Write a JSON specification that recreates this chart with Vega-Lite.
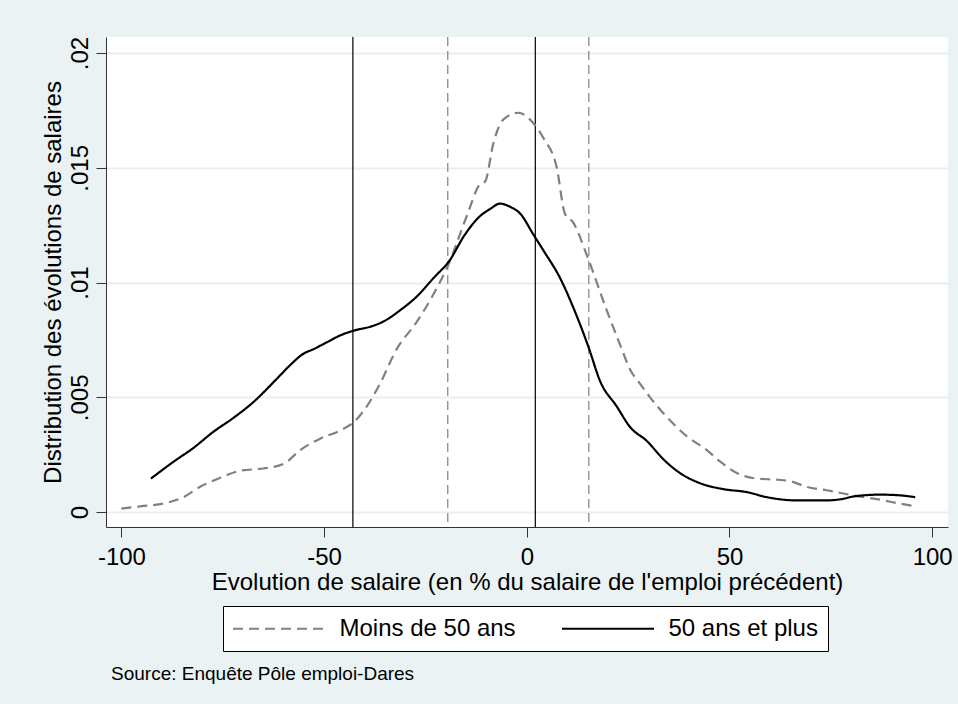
{
  "$schema": "https://vega.github.io/schema/vega-lite/v6.json",
  "width": 842,
  "height": 490,
  "autosize": {"type": "none"},
  "padding": {"left": 106, "top": 37, "right": 10, "bottom": 177},
  "background": "#eaf2f3",
  "config": {
    "view": {"stroke": null, "fill": "white"},
    "font": "Liberation Sans",
    "axis": {
      "domainColor": "#333333",
      "tickColor": "#333333",
      "tickSize": 10,
      "labelFontSize": 24,
      "labelColor": "black",
      "labelFont": "Liberation Sans",
      "titleFont": "Liberation Sans",
      "titleFontSize": 24,
      "titleFontWeight": "normal",
      "titleColor": "black"
    },
    "legend": {
      "title": null,
      "orient": "none",
      "legendX": 117,
      "legendY": 569,
      "direction": "horizontal",
      "strokeColor": "black",
      "fillColor": "white",
      "padding": 10,
      "labelFontSize": 24,
      "labelColor": "black",
      "labelFont": "Liberation Sans",
      "labelLimit": 400,
      "symbolType": "M-4,0H4",
      "symbolStrokeWidth": 2,
      "symbolSize": 529,
      "symbolOffset": 33.5,
      "labelOffset": 48,
      "columnPadding": 42
    }
  },
  "title": {
    "text": "Source: Enquête Pôle emploi-Dares",
    "orient": "bottom",
    "anchor": "start",
    "frame": "group",
    "fontSize": 19,
    "fontWeight": "normal",
    "color": "black",
    "font": "Liberation Sans",
    "dx": 5,
    "offset": 13
  },
  "datasets": {
    "curves": [
      {"x": -100, "y": 0.00015, "groupe": "Moins de 50 ans"},
      {"x": -95.3, "y": 0.00025, "groupe": "Moins de 50 ans"},
      {"x": -89.6, "y": 0.00037, "groupe": "Moins de 50 ans"},
      {"x": -84.7, "y": 0.00065, "groupe": "Moins de 50 ans"},
      {"x": -80.6, "y": 0.0011, "groupe": "Moins de 50 ans"},
      {"x": -75.6, "y": 0.0015, "groupe": "Moins de 50 ans"},
      {"x": -70.7, "y": 0.0018, "groupe": "Moins de 50 ans"},
      {"x": -65, "y": 0.0019, "groupe": "Moins de 50 ans"},
      {"x": -60, "y": 0.0021, "groupe": "Moins de 50 ans"},
      {"x": -55.9, "y": 0.0027, "groupe": "Moins de 50 ans"},
      {"x": -51, "y": 0.0032, "groupe": "Moins de 50 ans"},
      {"x": -46, "y": 0.00356, "groupe": "Moins de 50 ans"},
      {"x": -42.8, "y": 0.0039, "groupe": "Moins de 50 ans"},
      {"x": -39.5, "y": 0.0046, "groupe": "Moins de 50 ans"},
      {"x": -36.2, "y": 0.0056, "groupe": "Moins de 50 ans"},
      {"x": -32.1, "y": 0.0071, "groupe": "Moins de 50 ans"},
      {"x": -27.1, "y": 0.0083, "groupe": "Moins de 50 ans"},
      {"x": -23, "y": 0.0095, "groupe": "Moins de 50 ans"},
      {"x": -19.3, "y": 0.0108, "groupe": "Moins de 50 ans"},
      {"x": -14.8, "y": 0.0129, "groupe": "Moins de 50 ans"},
      {"x": -11.5, "y": 0.0143, "groupe": "Moins de 50 ans"},
      {"x": -10.3, "y": 0.0144, "groupe": "Moins de 50 ans"},
      {"x": -8.2, "y": 0.0161, "groupe": "Moins de 50 ans"},
      {"x": -5.8, "y": 0.0171, "groupe": "Moins de 50 ans"},
      {"x": -2.1, "y": 0.0174, "groupe": "Moins de 50 ans"},
      {"x": 0.8, "y": 0.0171, "groupe": "Moins de 50 ans"},
      {"x": 4.1, "y": 0.0163, "groupe": "Moins de 50 ans"},
      {"x": 7.4, "y": 0.015, "groupe": "Moins de 50 ans"},
      {"x": 9.4, "y": 0.013, "groupe": "Moins de 50 ans"},
      {"x": 11.5, "y": 0.0126, "groupe": "Moins de 50 ans"},
      {"x": 14.8, "y": 0.0112, "groupe": "Moins de 50 ans"},
      {"x": 19.7, "y": 0.0088, "groupe": "Moins de 50 ans"},
      {"x": 23, "y": 0.0073, "groupe": "Moins de 50 ans"},
      {"x": 25.5, "y": 0.0062, "groupe": "Moins de 50 ans"},
      {"x": 27.9, "y": 0.0056, "groupe": "Moins de 50 ans"},
      {"x": 30.4, "y": 0.005, "groupe": "Moins de 50 ans"},
      {"x": 35.3, "y": 0.004, "groupe": "Moins de 50 ans"},
      {"x": 39.5, "y": 0.0033, "groupe": "Moins de 50 ans"},
      {"x": 44.4, "y": 0.0027, "groupe": "Moins de 50 ans"},
      {"x": 47.7, "y": 0.0022, "groupe": "Moins de 50 ans"},
      {"x": 51.8, "y": 0.0017, "groupe": "Moins de 50 ans"},
      {"x": 56.7, "y": 0.00146, "groupe": "Moins de 50 ans"},
      {"x": 61.7, "y": 0.00141, "groupe": "Moins de 50 ans"},
      {"x": 64.9, "y": 0.00135, "groupe": "Moins de 50 ans"},
      {"x": 69, "y": 0.0011, "groupe": "Moins de 50 ans"},
      {"x": 74, "y": 0.00095, "groupe": "Moins de 50 ans"},
      {"x": 80.5, "y": 0.00073, "groupe": "Moins de 50 ans"},
      {"x": 87.1, "y": 0.00054, "groupe": "Moins de 50 ans"},
      {"x": 92, "y": 0.00037, "groupe": "Moins de 50 ans"},
      {"x": 95.8, "y": 0.00025, "groupe": "Moins de 50 ans"},
      {"x": -92.7, "y": 0.00146, "groupe": "50 ans et plus"},
      {"x": -87.1, "y": 0.0022, "groupe": "50 ans et plus"},
      {"x": -82.2, "y": 0.0028, "groupe": "50 ans et plus"},
      {"x": -77.3, "y": 0.0035, "groupe": "50 ans et plus"},
      {"x": -72.4, "y": 0.0041, "groupe": "50 ans et plus"},
      {"x": -67.4, "y": 0.0048, "groupe": "50 ans et plus"},
      {"x": -61.7, "y": 0.0058, "groupe": "50 ans et plus"},
      {"x": -58.4, "y": 0.0064, "groupe": "50 ans et plus"},
      {"x": -55.1, "y": 0.0069, "groupe": "50 ans et plus"},
      {"x": -52.6, "y": 0.0071, "groupe": "50 ans et plus"},
      {"x": -49.3, "y": 0.0074, "groupe": "50 ans et plus"},
      {"x": -46, "y": 0.0077, "groupe": "50 ans et plus"},
      {"x": -42.8, "y": 0.0079, "groupe": "50 ans et plus"},
      {"x": -38.2, "y": 0.0081, "groupe": "50 ans et plus"},
      {"x": -35.4, "y": 0.0083, "groupe": "50 ans et plus"},
      {"x": -31.2, "y": 0.0088, "groupe": "50 ans et plus"},
      {"x": -27.1, "y": 0.0094, "groupe": "50 ans et plus"},
      {"x": -23, "y": 0.0102, "groupe": "50 ans et plus"},
      {"x": -18.9, "y": 0.011, "groupe": "50 ans et plus"},
      {"x": -15.6, "y": 0.012, "groupe": "50 ans et plus"},
      {"x": -11.5, "y": 0.0129, "groupe": "50 ans et plus"},
      {"x": -9.1, "y": 0.0132, "groupe": "50 ans et plus"},
      {"x": -6.6, "y": 0.01344, "groupe": "50 ans et plus"},
      {"x": -4.1, "y": 0.0133, "groupe": "50 ans et plus"},
      {"x": -1.6, "y": 0.013, "groupe": "50 ans et plus"},
      {"x": 1.6, "y": 0.0121, "groupe": "50 ans et plus"},
      {"x": 4.1, "y": 0.0114, "groupe": "50 ans et plus"},
      {"x": 8.2, "y": 0.0102, "groupe": "50 ans et plus"},
      {"x": 11.5, "y": 0.0089, "groupe": "50 ans et plus"},
      {"x": 15.2, "y": 0.0072, "groupe": "50 ans et plus"},
      {"x": 18.1, "y": 0.0057, "groupe": "50 ans et plus"},
      {"x": 22.2, "y": 0.0046, "groupe": "50 ans et plus"},
      {"x": 25.5, "y": 0.0037, "groupe": "50 ans et plus"},
      {"x": 29.6, "y": 0.0031, "groupe": "50 ans et plus"},
      {"x": 33.7, "y": 0.0023, "groupe": "50 ans et plus"},
      {"x": 37.8, "y": 0.0017, "groupe": "50 ans et plus"},
      {"x": 42.7, "y": 0.00126, "groupe": "50 ans et plus"},
      {"x": 48.5, "y": 0.001, "groupe": "50 ans et plus"},
      {"x": 54.3, "y": 0.00087, "groupe": "50 ans et plus"},
      {"x": 59.2, "y": 0.00065, "groupe": "50 ans et plus"},
      {"x": 66.6, "y": 0.00051, "groupe": "50 ans et plus"},
      {"x": 74, "y": 0.00051, "groupe": "50 ans et plus"},
      {"x": 78.1, "y": 0.00058, "groupe": "50 ans et plus"},
      {"x": 80.5, "y": 0.00068, "groupe": "50 ans et plus"},
      {"x": 87.1, "y": 0.00076, "groupe": "50 ans et plus"},
      {"x": 92, "y": 0.00073, "groupe": "50 ans et plus"},
      {"x": 95.8, "y": 0.00065, "groupe": "50 ans et plus"}
    ],
    "refs": [
      {"x": -42.9, "groupe": "50 ans et plus"},
      {"x": -19.5, "groupe": "Moins de 50 ans"},
      {"x": 2.1, "groupe": "50 ans et plus"},
      {"x": 15.3, "groupe": "Moins de 50 ans"}
    ]
  },
  "layer": [
    {
      "data": {"name": "refs"},
      "transform": [{"filter": "datum.groupe == 'Moins de 50 ans'"}],
      "mark": {"type": "rule", "color": "#8a8a8a", "strokeWidth": 1.3, "strokeDash": [9, 5]},
      "encoding": {
        "x": {"field": "x", "type": "quantitative"}
      }
    },
    {
      "data": {"name": "refs"},
      "transform": [{"filter": "datum.groupe == '50 ans et plus'"}],
      "mark": {"type": "rule", "color": "black", "strokeWidth": 1.2},
      "encoding": {
        "x": {"field": "x", "type": "quantitative"}
      }
    },
    {
      "data": {"name": "curves"},
      "mark": {"type": "line", "strokeWidth": 2.2, "interpolate": "monotone"},
      "encoding": {
        "x": {
          "field": "x",
          "type": "quantitative",
          "scale": {"domain": [-103.8, 103.9], "nice": false, "zero": false},
          "axis": {
            "title": "Evolution de salaire (en % du salaire de l'emploi précédent)",
            "values": [-100, -50, 0, 50, 100],
            "labelExpr": "'' + datum.value",
            "grid": false,
            "labelPadding": 8,
            "titleY": 62,
            "titleBaseline": "alphabetic"
          }
        },
        "y": {
          "field": "y",
          "type": "quantitative",
          "scale": {"domain": [-0.00065, 0.0207], "nice": false, "zero": false},
          "axis": {
            "title": "Distribution des évolutions de salaires",
            "values": [0, 0.005, 0.01, 0.015, 0.02],
            "labelExpr": "datum.value == 0 ? '0' : substring(format(datum.value, '.3~f'), 1)",
            "labelAngle": -90,
            "labelAlign": "center",
            "labelBaseline": "alphabetic",
            "labelPadding": 9,
            "grid": true,
            "gridColor": "#e6eff1",
            "gridWidth": 2,
            "titleAngle": -90,
            "titleX": -46,
            "titleY": 245,
            "titleAlign": "center",
            "titleBaseline": "alphabetic"
          }
        },
        "color": {
          "field": "groupe",
          "type": "nominal",
          "scale": {"domain": ["Moins de 50 ans", "50 ans et plus"], "range": ["#808080", "black"]}
        },
        "strokeDash": {
          "field": "groupe",
          "type": "nominal",
          "scale": {"domain": ["Moins de 50 ans", "50 ans et plus"], "range": [[10, 6], [1, 0]]}
        }
      }
    }
  ]
}
